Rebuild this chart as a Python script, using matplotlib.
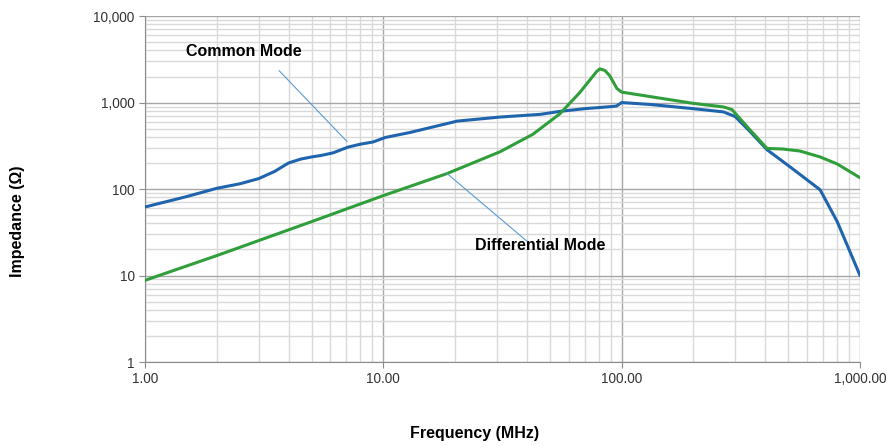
import matplotlib.pyplot as plt
from matplotlib.ticker import FixedLocator, LogLocator, NullFormatter

# --- data ---
cm_freq = [1.0, 1.5, 2.0, 2.5, 3.0, 3.5, 4.0, 4.5, 5.0, 5.5, 6.15, 7.1, 8.0, 9.05,
           10.2, 12.9, 20.4, 30.9, 45.5, 55, 70, 89, 95, 100, 132, 199, 267, 299,
           346, 407, 509, 680, 802, 1000]
cm_imp = [62, 82, 102, 115, 132, 160, 200, 222, 235, 245, 262, 305, 330, 350,
          395, 450, 610, 680, 730, 790, 850, 895, 910, 1000, 950, 850, 780, 690,
          460, 285, 180, 98, 42, 10]

dm_freq = [1.0, 2.0, 5.0, 10, 18.5, 30.9, 42.4, 55, 66.6, 78.7, 81, 85, 89, 95.5,
           100, 132, 199, 267, 290, 346, 407, 475, 560, 680, 802, 1000]
dm_imp = [8.8, 17, 42, 84, 151, 270, 430, 740, 1300, 2300, 2450, 2350, 2050, 1450,
          1320, 1170, 980, 890, 830, 480, 295, 290, 275, 235, 195, 135]

x_ticks = [1, 10, 100, 1000]
x_labels = ['1.00', '10.00', '100.00', '1,000.00']
y_ticks = [1, 10, 100, 1000, 10000]
y_labels = ['1', '10', '100', '1,000', '10,000']

plt.rcParams['font.family'] = ['Liberation Sans', 'DejaVu Sans']

fig = plt.figure(figsize=(8.86, 4.46), dpi=100)
ax = fig.add_axes([0.1637, 0.1883, 0.8070, 0.7757])

ax.set_xscale('log')
ax.set_yscale('log')
ax.set_xlim(1, 1000)
ax.set_ylim(1, 10000)

ax.plot(cm_freq, cm_imp, color='#1f65ad', linewidth=2.2, solid_capstyle='round', zorder=3)
ax.plot(dm_freq, dm_imp, color='#2f9e3b', linewidth=2.2, solid_capstyle='round', zorder=3)

ax.xaxis.set_major_locator(FixedLocator(x_ticks))
ax.set_xticklabels(x_labels)
ax.yaxis.set_major_locator(FixedLocator(y_ticks))
ax.set_yticklabels(y_labels)
ax.xaxis.set_minor_locator(LogLocator(base=10, subs=range(2, 10)))
ax.yaxis.set_minor_locator(LogLocator(base=10, subs=range(2, 10)))
ax.xaxis.set_minor_formatter(NullFormatter())
ax.yaxis.set_minor_formatter(NullFormatter())

ax.grid(True, which='major', color='#a6a6a6', linewidth=1.0, zorder=0)
ax.grid(True, which='minor', color='#d9d9d9', linewidth=1.0, zorder=0)
ax.set_axisbelow(True)

for s in ['top', 'right']:
    ax.spines[s].set_visible(False)
for s in ['left', 'bottom']:
    ax.spines[s].set_color('#8c8c8c')

ax.tick_params(axis='both', which='major', length=4, color='#8c8c8c',
               labelsize=9.8, labelcolor='#333333')
ax.tick_params(axis='both', which='minor', length=0)

# labels and thin leader lines
lead = dict(arrowstyle='-', color='#5b9bd5', linewidth=0.8, shrinkA=0, shrinkB=0)
ax.text(2.6, 3900, 'Common Mode', fontsize=11.5, fontweight='bold',
        ha='center', va='center')
ax.annotate('', xy=(7.04, 354), xytext=(3.65, 2340), arrowprops=lead)
ax.text(45.5, 22, 'Differential Mode', fontsize=11.5, fontweight='bold',
        ha='center', va='center')
ax.annotate('', xy=(40, 25), xytext=(18.5, 151), arrowprops=lead)

# axis titles sit off-centre in the original
fig.text(0.536, 0.029, 'Frequency (MHz)', fontsize=11.5, fontweight='bold',
         ha='center', va='center')
fig.text(0.0203, 0.504, 'Impedance (Ω)', fontsize=11.5, fontweight='bold',
         ha='center', va='center', rotation=90)

fig.savefig('out.png', dpi=100)
